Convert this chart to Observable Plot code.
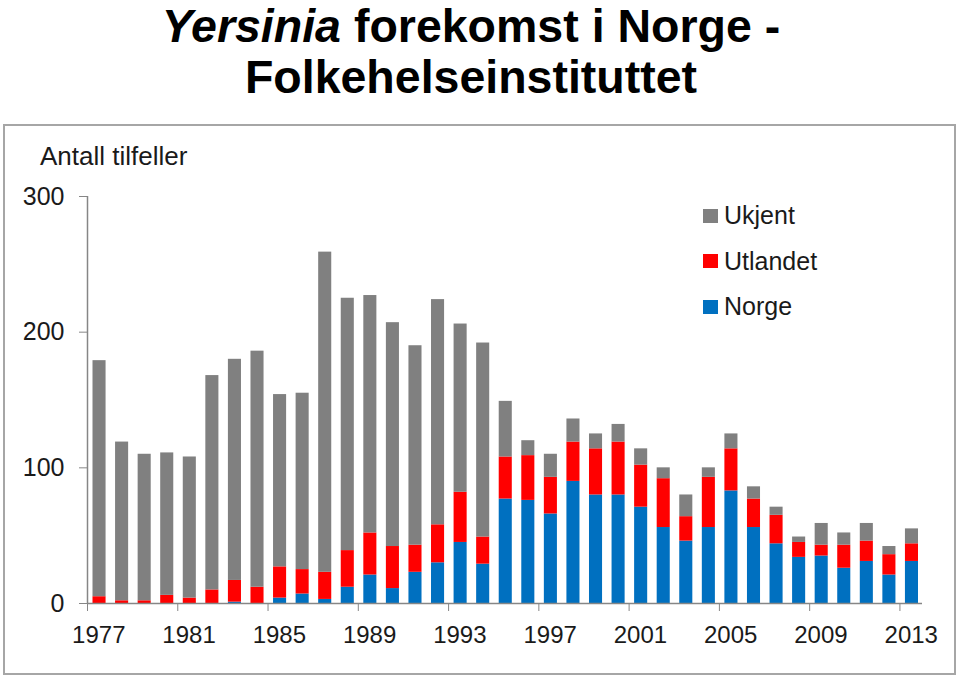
<!DOCTYPE html>
<html><head><meta charset="utf-8">
<script src="https://cdn.jsdelivr.net/npm/d3@7"></script>
<script src="https://cdn.jsdelivr.net/npm/@observablehq/plot@0.6"></script>
<style>
body{margin:0;background:#fff;font-family:"Liberation Sans",Arial,sans-serif;}
#page{position:relative;width:960px;height:678px;overflow:hidden;background:#fff;}
.tline{position:absolute;left:0;width:942px;text-align:center;font-weight:bold;font-size:46.5px;line-height:52px;color:#000;white-space:nowrap;}
#t1{top:0;}
#t2{top:51px;}
#box{position:absolute;left:3px;top:124px;border:2px solid #a6a6a6;box-sizing:border-box;width:953px;height:551px;}
#chart{position:absolute;left:0;top:125px;}
#ylabel{position:absolute;left:40px;top:143px;font-size:26px;line-height:26px;color:#1a1a1a;white-space:nowrap;}
#legend{position:absolute;left:703px;top:193px;}
.row{display:flex;align-items:center;height:45.5px;font-size:25px;color:#1a1a1a;}
.sw{width:15px;height:14px;margin-right:6px;}
</style>
</head><body>
<div id="page">
  <div id="t1" class="tline"><i>Yersinia</i> forekomst i Norge -</div>
  <div id="t2" class="tline">Folkehelseinstituttet</div>
  <div id="box"></div>
  <div id="chart"></div>
  <div id="ylabel">Antall tilfeller</div>
  <div id="legend"></div>
</div>
<script>
const years = [1977,1978,1979,1980,1981,1982,1983,1984,1985,1986,1987,1988,1989,1990,1991,1992,1993,1994,1995,1996,1997,1998,1999,2000,2001,2002,2003,2004,2005,2006,2007,2008,2009,2010,2011,2012,2013];
const norge    = [0,0,0,0,0,0,1,0,4,7,3,12,21,11,23,30,45,29,77,76,66,90,80,80,71,56,46,56,83,56,44,34,35,26,31,21,31];
const utlandet = [5,2,2,6,4,10,16,12,23,18,20,27,31,31,20,28,37,20,31,33,27,29,34,39,31,36,18,37,31,21,21,11,8,17,15,15,13];
const ukjent   = [174,117,108,105,104,158,163,174,127,130,236,186,175,165,147,166,124,143,41,11,17,17,11,13,12,8,16,7,11,9,6,4,16,9,13,6,11];
const sources = ["Norge","Utlandet","Ukjent"];
const colors  = ["#0070c0","#ff0000","#808080"];
const legendOrder = ["Ukjent","Utlandet","Norge"];
const yTicks = [0,100,200,300];
const xLabels = [1977,1981,1985,1989,1993,1997,2001,2005,2009,2013];

const series = {Norge: norge, Utlandet: utlandet, Ukjent: ukjent};
const data = [];
years.forEach((yr, i) => {
  sources.forEach(s => data.push({year: yr, source: s, value: series[s][i]}));
});

const axisColor = "#868686";
const chart = Plot.plot({
  width: 960, height: 553,
  marginLeft: 87, marginRight: 38, marginTop: 71, marginBottom: 75,
  x: {type: "linear", domain: [years[0], years[years.length-1] + 1]},
  y: {domain: [0, 300]},
  color: {domain: sources, range: colors},
  style: {fontFamily: "'Liberation Sans', Arial, sans-serif", fontSize: "25px", color: "#1a1a1a", background: "transparent", overflow: "visible"},
  marks: [
    Plot.rectY(data, {x: "year", interval: 1, y: "value", fill: "source", insetLeft: 5.5, insetRight: 4}),
    Plot.ruleX([years[0]], {y1: 0, y2: 300, stroke: axisColor, strokeWidth: 1.5}),
    Plot.ruleY([0], {stroke: axisColor, strokeWidth: 1.5}),
    Plot.axisY({ticks: yTicks, tickSize: 8, tickPadding: 15, stroke: axisColor, label: null, tickFormat: d => String(d)}),
    Plot.axisX({ticks: xLabels, tickSize: 8, tickFormat: () => "", stroke: axisColor, label: null}),
    Plot.axisX({ticks: xLabels.map(v => v + 0.5), tickSize: 0, tickPadding: 22, fontSize: 24, tickFormat: d => String(Math.floor(d)), label: null})
  ]
});
document.getElementById("chart").appendChild(chart);

const leg = document.getElementById("legend");
legendOrder.forEach(s => {
  const row = document.createElement("div");
  row.className = "row";
  const sw = document.createElement("div");
  sw.className = "sw";
  sw.style.background = colors[sources.indexOf(s)];
  const t = document.createElement("span");
  t.textContent = s;
  row.appendChild(sw); row.appendChild(t);
  leg.appendChild(row);
});
</script>
</body></html>
